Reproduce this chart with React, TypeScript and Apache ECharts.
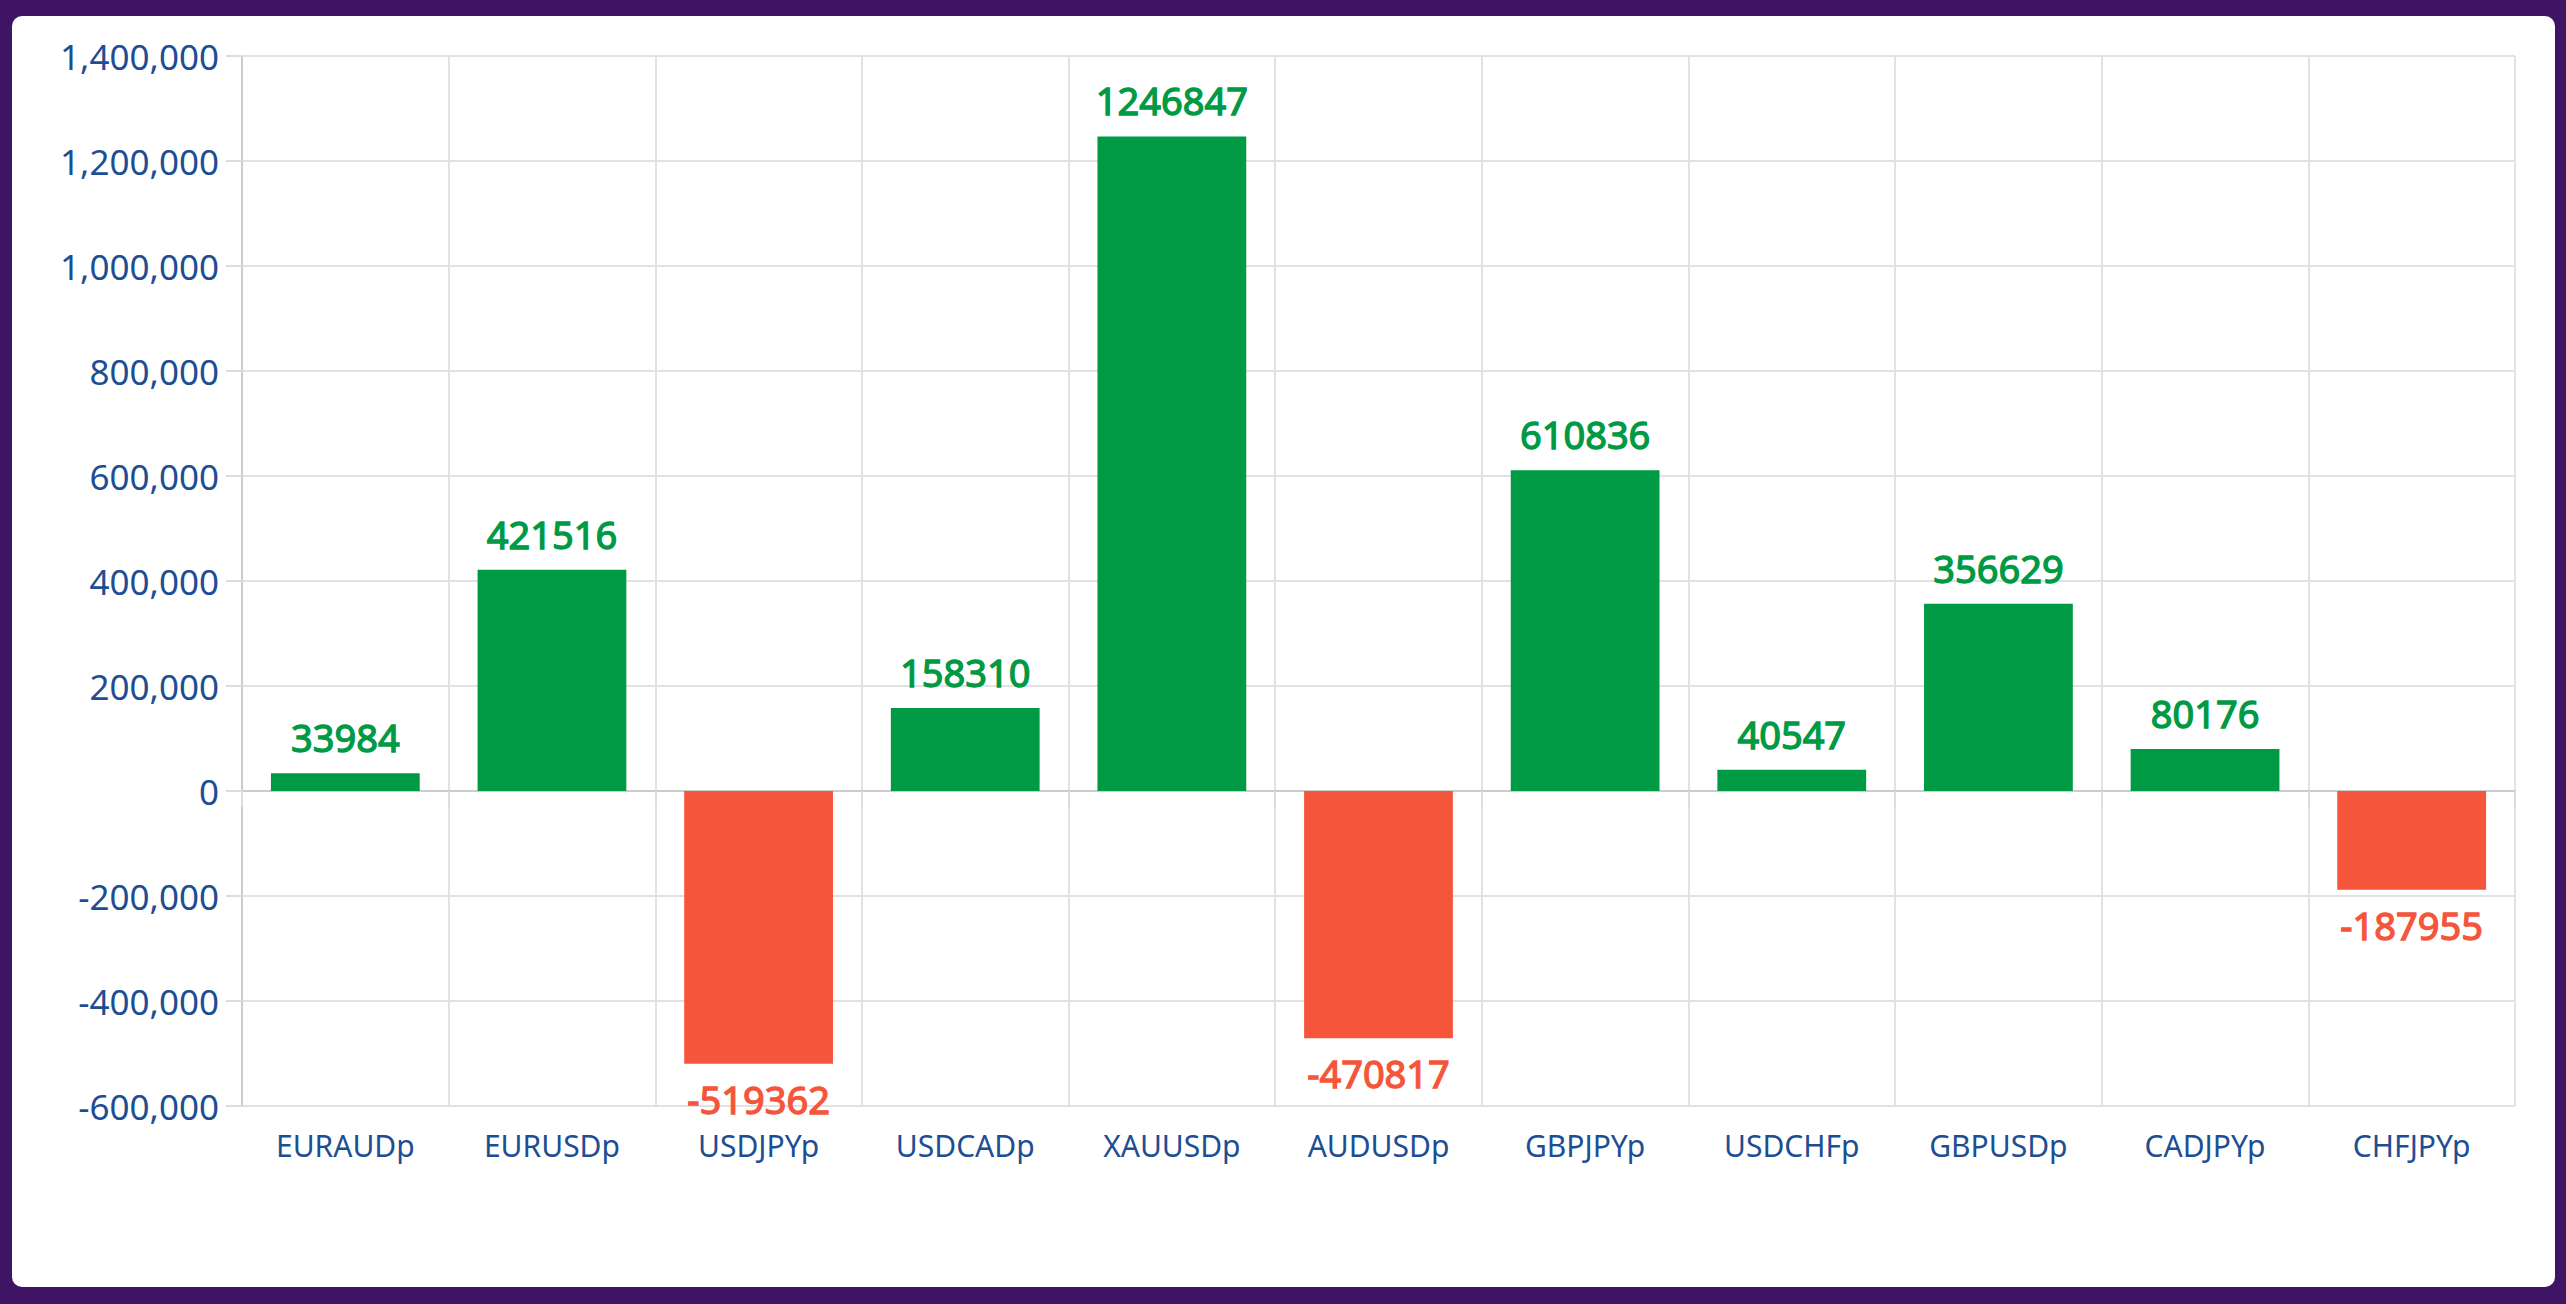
import React, { useEffect, useRef } from "react";
import * as echarts from "echarts";

const categories = ["EURAUDp", "EURUSDp", "USDJPYp", "USDCADp", "XAUUSDp", "AUDUSDp", "GBPJPYp", "USDCHFp", "GBPUSDp", "CADJPYp", "CHFJPYp"];
const profits = [33984, 421516, -519362, 158310, 1246847, -470817, 610836, 40547, 356629, 80176, -187955];
const yMin = -600000;
const yMax = 1400000;
const yStep = 200000;

const GREEN = "#009944";
const RED = "#f5553b";
const BLUE = "#1d4e94";
const FONT = "'Noto Sans', sans-serif";

export default function App() {
  const ref = useRef<HTMLDivElement>(null);
  useEffect(() => {
    if (!ref.current) return;
    const chart = echarts.init(ref.current, undefined, { renderer: "svg" });
    chart.setOption({
      animation: false,
      backgroundColor: "transparent",
      textStyle: { fontFamily: FONT },
      grid: { left: 242, right: 51, top: 56, bottom: 198, containLabel: false },
      xAxis: {
        type: "category",
        data: categories,
        axisLine: { show: true, lineStyle: { color: "#cccccc", width: 2 } },
        axisTick: { show: true, length: 16, lineStyle: { color: "#dddddd", width: 2 } },
        splitLine: { show: true, lineStyle: { color: "#e2e2e2", width: 2 } },
        axisLabel: { color: BLUE, fontSize: 30, margin: 24, fontFamily: FONT },
      },
      yAxis: {
        type: "value",
        min: yMin,
        max: yMax,
        interval: yStep,
        axisLine: { show: true, lineStyle: { color: "#cccccc", width: 2 } },
        axisTick: { show: true, length: 16, lineStyle: { color: "#dddddd", width: 2 } },
        splitLine: { show: true, lineStyle: { color: "#e2e2e2", width: 2 } },
        axisLabel: {
          color: BLUE,
          fontSize: 35,
          margin: 23,
          fontFamily: FONT,
          formatter: (v: number) => v.toLocaleString("en-US"),
        },
      },
      series: [
        {
          type: "bar",
          barCategoryGap: "28%",
          data: profits.map((v) => {
            const c = v >= 0 ? GREEN : RED;
            return {
              value: v,
              itemStyle: { color: c },
              label: {
                show: true,
                position: v >= 0 ? "top" : "bottom",
                distance: v >= 0 ? 17 : 16,
                color: c,
                fontSize: 38,
                fontWeight: "normal",
                fontFamily: FONT,
                textBorderColor: c,
                textBorderWidth: 1.3,
              },
            };
          }),
        },
      ],
    });
    return () => chart.dispose();
  }, []);
  return (
    <div style={{ position: "absolute", left: 0, top: 0, width: 2566, height: 1304, background: "#3f1465" }}>
      <div
        style={{
          position: "absolute",
          left: 12,
          top: 16,
          width: 2543,
          height: 1271,
          background: "#ffffff",
          borderRadius: 10,
        }}
      />
      <div ref={ref} style={{ position: "absolute", left: 0, top: 0, width: 2566, height: 1304 }} />
    </div>
  );
}
